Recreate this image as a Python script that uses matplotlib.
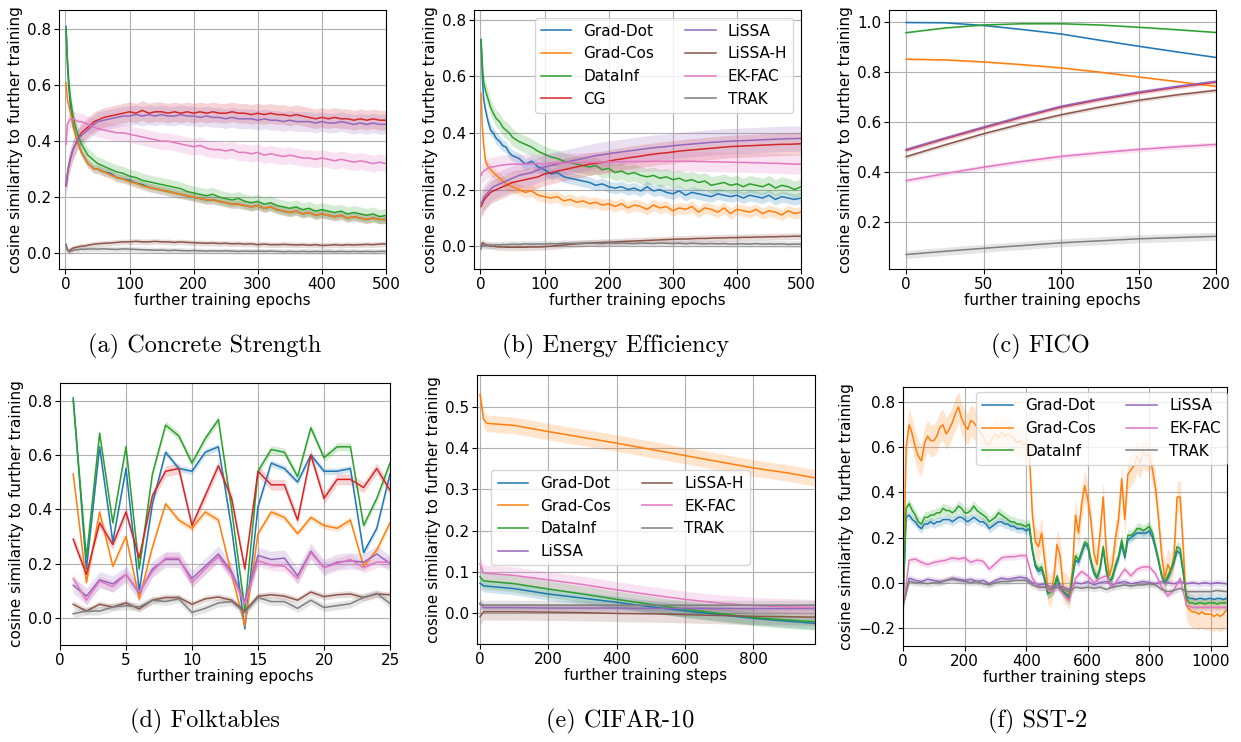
import matplotlib
matplotlib.use("Agg")
import matplotlib.pyplot as plt
import numpy as np

plt.rcParams['font.family'] = ['DejaVu Sans']
plt.rcParams['font.size'] = 11
plt.rcParams['axes.unicode_minus'] = True

METHODS = ['Grad-Dot', 'Grad-Cos', 'DataInf', 'CG', 'LiSSA', 'LiSSA-H', 'EK-FAC', 'TRAK']
COLORS = {'Grad-Dot': '#1f77b4', 'Grad-Cos': '#ff7f0e', 'DataInf': '#2ca02c', 'CG': '#d62728',
          'LiSSA': '#9467bd', 'LiSSA-H': '#8c564b', 'EK-FAC': '#e377c2', 'TRAK': '#7f7f7f'}

# ---------------- (a) Concrete Strength ----------------
x_a = [1, 3, 5, 8, 12, 16, 20, 25, 30, 35, 40, 45, 50] + list(range(60, 501, 10))
a_grad_dot = [0.81, 0.68, 0.60, 0.52, 0.46, 0.42, 0.39, 0.36, 0.34, 0.32, 0.31, 0.30, 0.30,
              0.29, 0.285, 0.27, 0.265, 0.26, 0.25, 0.245, 0.235, 0.23, 0.225,
              0.22, 0.215, 0.21, 0.205, 0.20, 0.195, 0.19, 0.19, 0.185, 0.18,
              0.175, 0.175, 0.17, 0.165, 0.17, 0.16, 0.165, 0.155, 0.15, 0.145,
              0.15, 0.14, 0.145, 0.135, 0.14, 0.135, 0.13, 0.135, 0.125, 0.13,
              0.125, 0.12, 0.125, 0.12, 0.12]
a_grad_cos = [0.61, 0.55, 0.53, 0.50, 0.45, 0.42, 0.39, 0.36, 0.34, 0.32, 0.31, 0.30, 0.30,
              0.29, 0.28, 0.27, 0.265, 0.255, 0.25, 0.24, 0.235, 0.23, 0.225,
              0.22, 0.215, 0.21, 0.205, 0.20, 0.195, 0.19, 0.19, 0.185, 0.18,
              0.175, 0.175, 0.17, 0.165, 0.17, 0.16, 0.165, 0.155, 0.15, 0.145,
              0.15, 0.14, 0.145, 0.135, 0.14, 0.135, 0.13, 0.135, 0.125, 0.13,
              0.125, 0.12, 0.125, 0.12, 0.12]
a_datainf = [0.80, 0.70, 0.62, 0.55, 0.49, 0.45, 0.42, 0.39, 0.37, 0.35, 0.34, 0.33, 0.32,
             0.31, 0.30, 0.29, 0.285, 0.275, 0.27, 0.26, 0.255, 0.25, 0.245,
             0.24, 0.235, 0.23, 0.22, 0.215, 0.21, 0.205, 0.21, 0.20, 0.195,
             0.19, 0.195, 0.185, 0.18, 0.185, 0.175, 0.18, 0.17, 0.165, 0.16,
             0.165, 0.155, 0.16, 0.15, 0.155, 0.15, 0.145, 0.15, 0.14, 0.145,
             0.14, 0.135, 0.14, 0.13, 0.135]
a_cg = [0.24, 0.28, 0.31, 0.34, 0.37, 0.39, 0.41, 0.43, 0.44, 0.45, 0.46, 0.47, 0.475,
        0.485, 0.49, 0.495, 0.50, 0.505, 0.50, 0.51, 0.50, 0.505, 0.505,
        0.50, 0.505, 0.50, 0.505, 0.50, 0.505, 0.50, 0.505, 0.50, 0.50,
        0.505, 0.50, 0.50, 0.495, 0.50, 0.495, 0.50, 0.495, 0.495, 0.49,
        0.495, 0.49, 0.485, 0.48, 0.485, 0.48, 0.485, 0.48, 0.48, 0.475,
        0.48, 0.475, 0.48, 0.475, 0.475]
a_lissa = [0.24, 0.28, 0.31, 0.34, 0.37, 0.39, 0.41, 0.42, 0.43, 0.44, 0.45, 0.46, 0.47,
           0.475, 0.48, 0.485, 0.49, 0.49, 0.495, 0.49, 0.495, 0.49, 0.495,
           0.49, 0.49, 0.495, 0.49, 0.49, 0.485, 0.49, 0.485, 0.485, 0.48,
           0.485, 0.48, 0.48, 0.48, 0.475, 0.48, 0.475, 0.475, 0.47, 0.475,
           0.47, 0.47, 0.47, 0.465, 0.47, 0.465, 0.465, 0.47, 0.465, 0.46,
           0.465, 0.46, 0.465, 0.46, 0.46]
a_lissa_h = [0.03, 0.01, 0.008, 0.012, 0.018, 0.02, 0.022, 0.025, 0.025, 0.028, 0.03, 0.032, 0.033,
             0.035, 0.036, 0.038, 0.04, 0.04, 0.042, 0.04, 0.04, 0.042, 0.04,
             0.04, 0.038, 0.04, 0.038, 0.037, 0.036, 0.035, 0.036, 0.034, 0.035,
             0.033, 0.034, 0.032, 0.033, 0.03, 0.032, 0.03, 0.03, 0.031, 0.03,
             0.029, 0.03, 0.028, 0.03, 0.027, 0.028, 0.03, 0.028, 0.03, 0.029,
             0.03, 0.031, 0.03, 0.032, 0.033]
a_ekfac = [0.39, 0.46, 0.47, 0.48, 0.48, 0.475, 0.47, 0.47, 0.465, 0.46, 0.455, 0.45, 0.445,
           0.44, 0.435, 0.43, 0.43, 0.425, 0.42, 0.415, 0.41, 0.405, 0.40,
           0.40, 0.395, 0.39, 0.385, 0.38, 0.385, 0.375, 0.37, 0.37, 0.365,
           0.37, 0.36, 0.36, 0.355, 0.36, 0.35, 0.355, 0.35, 0.345, 0.35,
           0.345, 0.34, 0.34, 0.335, 0.34, 0.335, 0.33, 0.335, 0.33, 0.325,
           0.33, 0.325, 0.32, 0.325, 0.32]
a_trak = [0.03, 0.012, 0.005, 0.006, 0.01, 0.012, 0.012, 0.014, 0.013, 0.015, 0.014, 0.015, 0.014,
          0.015, 0.014, 0.013, 0.015, 0.014, 0.013, 0.012, 0.011, 0.01, 0.011,
          0.009, 0.01, 0.009, 0.008, 0.009, 0.008, 0.007, 0.008, 0.007, 0.008,
          0.007, 0.006, 0.007, 0.006, 0.007, 0.006, 0.007, 0.006, 0.005, 0.006,
          0.005, 0.006, 0.005, 0.006, 0.005, 0.006, 0.005, 0.006, 0.005, 0.006,
          0.005, 0.006, 0.005, 0.006, 0.006]
a_std = [0.015, 0.015, 0.025, 0.035, 0.035, 0.01, 0.03, 0.01]

# ---------------- (b) Energy Efficiency ----------------
x_b = [1, 3, 5, 8, 12, 16, 20, 25, 30, 35, 40, 45, 50] + list(range(60, 501, 10))
b_grad_dot = [0.73, 0.60, 0.52, 0.48, 0.44, 0.41, 0.40, 0.38, 0.37, 0.355, 0.35, 0.33, 0.32,
              0.31, 0.29, 0.30, 0.28, 0.27, 0.255, 0.26, 0.245, 0.24, 0.235,
              0.23, 0.225, 0.215, 0.22, 0.21, 0.205, 0.21, 0.20, 0.205, 0.195,
              0.21, 0.195, 0.20, 0.19, 0.185, 0.195, 0.18, 0.19, 0.185, 0.18,
              0.175, 0.185, 0.18, 0.175, 0.18, 0.17, 0.18, 0.175, 0.17, 0.18,
              0.165, 0.175, 0.17, 0.165, 0.17]
b_grad_cos = [0.54, 0.42, 0.36, 0.30, 0.28, 0.27, 0.26, 0.25, 0.24, 0.23, 0.22, 0.215, 0.21,
              0.20, 0.19, 0.195, 0.18, 0.175, 0.17, 0.175, 0.16, 0.165, 0.155,
              0.16, 0.15, 0.155, 0.145, 0.15, 0.14, 0.15, 0.135, 0.145, 0.14,
              0.13, 0.145, 0.135, 0.14, 0.125, 0.135, 0.13, 0.14, 0.12, 0.135,
              0.13, 0.12, 0.135, 0.115, 0.13, 0.125, 0.12, 0.13, 0.115, 0.125,
              0.12, 0.11, 0.125, 0.115, 0.12]
b_datainf = [0.73, 0.64, 0.58, 0.55, 0.52, 0.49, 0.47, 0.45, 0.44, 0.42, 0.41, 0.40, 0.385,
             0.37, 0.36, 0.35, 0.335, 0.325, 0.315, 0.31, 0.30, 0.295, 0.29,
             0.285, 0.28, 0.285, 0.27, 0.275, 0.26, 0.265, 0.255, 0.26, 0.25,
             0.245, 0.25, 0.24, 0.245, 0.235, 0.24, 0.23, 0.235, 0.225, 0.23,
             0.215, 0.22, 0.225, 0.215, 0.22, 0.21, 0.22, 0.215, 0.21, 0.22,
             0.205, 0.215, 0.21, 0.20, 0.21]
b_cg = [0.14, 0.15, 0.16, 0.17, 0.18, 0.19, 0.195, 0.20, 0.205, 0.21, 0.215, 0.22, 0.225,
        0.23, 0.235, 0.24, 0.245, 0.255, 0.26, 0.265, 0.27, 0.275, 0.28,
        0.285, 0.29, 0.293, 0.296, 0.30, 0.305, 0.308, 0.312, 0.315, 0.318,
        0.322, 0.325, 0.328, 0.33, 0.333, 0.336, 0.338, 0.34, 0.342, 0.344,
        0.346, 0.348, 0.35, 0.352, 0.353, 0.354, 0.355, 0.356, 0.357, 0.358,
        0.359, 0.36, 0.36, 0.361, 0.362]
b_lissa = [0.15, 0.16, 0.17, 0.18, 0.19, 0.20, 0.21, 0.215, 0.22, 0.225, 0.23, 0.235, 0.24,
           0.25, 0.255, 0.26, 0.27, 0.28, 0.285, 0.29, 0.295, 0.30, 0.305,
           0.31, 0.315, 0.32, 0.323, 0.327, 0.33, 0.333, 0.336, 0.339, 0.342,
           0.345, 0.348, 0.35, 0.352, 0.355, 0.357, 0.359, 0.361, 0.363, 0.365,
           0.367, 0.368, 0.37, 0.371, 0.372, 0.373, 0.374, 0.375, 0.376, 0.377,
           0.378, 0.379, 0.38, 0.38, 0.381]
b_lissa_h = [0.0, 0.012, 0.01, 0.005, 0.003, 0.0, 0.0, -0.002, -0.003, -0.003, -0.004, -0.004, -0.004,
             -0.004, -0.004, -0.003, -0.003, -0.002, 0.0, 0.002, 0.004, 0.006, 0.008,
             0.01, 0.011, 0.012, 0.013, 0.014, 0.015, 0.016, 0.017, 0.018, 0.019,
             0.02, 0.021, 0.022, 0.023, 0.024, 0.025, 0.025, 0.026, 0.027, 0.027,
             0.028, 0.029, 0.029, 0.03, 0.03, 0.031, 0.031, 0.032, 0.032, 0.033,
             0.033, 0.034, 0.034, 0.035, 0.035]
b_ekfac = [0.25, 0.26, 0.265, 0.27, 0.275, 0.28, 0.28, 0.283, 0.285, 0.287, 0.288, 0.289, 0.29,
           0.29, 0.29, 0.291, 0.292, 0.292, 0.293, 0.294, 0.294, 0.295, 0.295,
           0.296, 0.296, 0.297, 0.297, 0.298, 0.298, 0.298, 0.299, 0.299, 0.299,
           0.299, 0.30, 0.30, 0.30, 0.30, 0.30, 0.30, 0.30, 0.299, 0.299,
           0.298, 0.298, 0.297, 0.297, 0.296, 0.296, 0.295, 0.295, 0.294, 0.293,
           0.293, 0.292, 0.291, 0.29, 0.29]
b_trak = [-0.01, 0.005, 0.0, 0.002, 0.003, 0.004, 0.003, 0.005, 0.004, 0.006, 0.005, 0.006, 0.007,
          0.006, 0.008, 0.007, 0.008, 0.007, 0.009, 0.008, 0.01, 0.009, 0.01,
          0.009, 0.011, 0.01, 0.009, 0.011, 0.01, 0.011, 0.01, 0.009, 0.011,
          0.01, 0.009, 0.011, 0.01, 0.009, 0.01, 0.008, 0.01, 0.009, 0.008,
          0.009, 0.008, 0.009, 0.007, 0.008, 0.008, 0.007, 0.009, 0.007, 0.008,
          0.007, 0.008, 0.006, 0.007, 0.007]
b_std = [0.02, 0.02, 0.03, 0.04, 0.045, 0.012, 0.035, 0.012]

# ---------------- (c) FICO ----------------
x_c = [0, 25, 50, 75, 100, 125, 150, 175, 200]
c_grad_dot = [0.998, 0.997, 0.986, 0.970, 0.952, 0.927, 0.903, 0.880, 0.858]
c_grad_cos = [0.851, 0.848, 0.840, 0.829, 0.816, 0.799, 0.780, 0.761, 0.742]
c_datainf = [0.957, 0.976, 0.988, 0.993, 0.993, 0.988, 0.979, 0.969, 0.958]
c_cg = [0.486, 0.532, 0.576, 0.619, 0.659, 0.689, 0.716, 0.739, 0.759]
c_lissa = [0.489, 0.535, 0.579, 0.622, 0.662, 0.692, 0.719, 0.742, 0.762]
c_lissa_h = [0.460, 0.507, 0.552, 0.592, 0.628, 0.659, 0.686, 0.708, 0.726]
c_ekfac = [0.364, 0.392, 0.418, 0.441, 0.461, 0.476, 0.489, 0.500, 0.509]
c_trak = [0.068, 0.081, 0.093, 0.104, 0.115, 0.123, 0.131, 0.136, 0.141]
c_std = [0.003, 0.004, 0.003, 0.008, 0.008, 0.008, 0.01, 0.016]

# ---------------- (d) Folktables ----------------
x_d = list(range(1, 26))
d_grad_dot = [0.81, 0.18, 0.63, 0.28, 0.55, 0.10, 0.42, 0.61, 0.55, 0.54, 0.61, 0.63, 0.33, -0.04,
              0.41, 0.57, 0.55, 0.50, 0.60, 0.54, 0.54, 0.55, 0.24, 0.33, 0.53]
d_grad_cos = [0.53, 0.13, 0.39, 0.19, 0.30, 0.07, 0.26, 0.42, 0.36, 0.33, 0.39, 0.36, 0.16, -0.03,
              0.31, 0.39, 0.37, 0.31, 0.37, 0.34, 0.33, 0.36, 0.19, 0.25, 0.35]
d_datainf = [0.80, 0.22, 0.68, 0.35, 0.63, 0.18, 0.53, 0.71, 0.67, 0.57, 0.66, 0.73, 0.40, 0.03,
             0.54, 0.62, 0.61, 0.52, 0.70, 0.59, 0.63, 0.63, 0.34, 0.44, 0.57]
d_cg = [0.29, 0.16, 0.35, 0.27, 0.39, 0.22, 0.45, 0.54, 0.55, 0.34, 0.45, 0.56, 0.44, 0.18,
        0.54, 0.49, 0.49, 0.36, 0.60, 0.44, 0.51, 0.51, 0.48, 0.55, 0.47]
d_lissa = [0.12, 0.08, 0.14, 0.125, 0.16, 0.09, 0.18, 0.215, 0.215, 0.145, 0.19, 0.235, 0.17, 0.06,
           0.23, 0.215, 0.22, 0.155, 0.245, 0.185, 0.205, 0.21, 0.205, 0.235, 0.20]
d_lissa_h = [0.05, 0.025, 0.05, 0.04, 0.055, 0.033, 0.065, 0.075, 0.075, 0.05, 0.07, 0.077, 0.065, 0.025,
             0.08, 0.085, 0.08, 0.065, 0.095, 0.078, 0.085, 0.088, 0.075, 0.088, 0.085]
d_ekfac = [0.145, 0.065, 0.135, 0.115, 0.16, 0.095, 0.17, 0.22, 0.22, 0.13, 0.18, 0.225, 0.16, 0.05,
           0.21, 0.195, 0.19, 0.145, 0.24, 0.185, 0.20, 0.215, 0.185, 0.205, 0.205]
d_trak = [0.015, 0.025, 0.025, 0.04, 0.045, 0.04, 0.065, 0.06, 0.07, 0.02, 0.035, 0.055, 0.06, 0.02,
          0.075, 0.06, 0.06, 0.035, 0.065, 0.038, 0.045, 0.052, 0.075, 0.09, 0.053]
d_std = [0.012, 0.012, 0.015, 0.02, 0.03, 0.012, 0.02, 0.015]

# ---------------- (e) CIFAR-10 ----------------
x_e = [0, 10, 20, 100, 200, 300, 400, 500, 600, 700, 800, 900, 980]
e_grad_dot = [0.073, 0.067, 0.066, 0.060, 0.047, 0.037, 0.027, 0.016, 0.006, -0.003, -0.012, -0.019, -0.024]
e_grad_cos = [0.53, 0.47, 0.46, 0.455, 0.44, 0.426, 0.412, 0.397, 0.382, 0.367, 0.352, 0.340, 0.328]
e_datainf = [0.089, 0.079, 0.078, 0.072, 0.059, 0.047, 0.034, 0.022, 0.010, 0.0, -0.010, -0.016, -0.020]
e_lissa = [0.025, 0.014, 0.014, 0.014, 0.013, 0.013, 0.013, 0.012, 0.012, 0.012, 0.012, 0.012, 0.012]
e_lissa_h = [-0.008, 0.004, 0.004, 0.004, 0.003, 0.002, 0.0, -0.001, -0.003, -0.005, -0.007, -0.008, -0.009]
e_ekfac = [0.12, 0.098, 0.097, 0.092, 0.081, 0.070, 0.057, 0.045, 0.034, 0.025, 0.019, 0.016, 0.014]
e_trak = [0.022, 0.020, 0.020, 0.020, 0.020, 0.020, 0.020, 0.020, 0.020, 0.020, 0.020, 0.020, 0.020]
e_std = [0.015, 0.02, 0.02, 0.01, 0.02, 0.02, 0.012]

# ---------------- (f) SST-2 ----------------
x_f = list(range(0, 1051, 10))
x_f_coarse = list(range(0, 1040, 20)) + [1050]
f_grad_dot = [-0.10, 0.29, 0.30, 0.28, 0.27, 0.25, 0.24, 0.26, 0.26, 0.27,
              0.26, 0.27, 0.27, 0.28, 0.28, 0.28, 0.27, 0.28, 0.29, 0.29,
              0.28, 0.27, 0.28, 0.29, 0.28, 0.27, 0.27, 0.26, 0.24, 0.25,
              0.26, 0.27, 0.27, 0.26, 0.26, 0.25, 0.25, 0.24, 0.24, 0.24,
              0.23, 0.24, 0.14, 0.07, 0.05, 0.06, 0.01, -0.05, -0.04, -0.03,
              0.02, -0.02, -0.04, -0.05, -0.06, 0.02, 0.10, 0.09, 0.13, 0.17,
              0.16, 0.09, 0.04, 0.02, 0.06, 0.15, 0.05, 0.00, 0.02, 0.07,
              0.11, 0.17, 0.11, 0.19, 0.20, 0.21, 0.22, 0.22, 0.22, 0.22,
              0.23, 0.20, 0.15, 0.09, 0.03, 0.00, 0.02, 0.05, 0.09, 0.14,
              0.13, 0.04, -0.06, -0.07, -0.07, -0.075, -0.07, -0.07, -0.075, -0.07,
              -0.07, -0.075, -0.07, -0.07, -0.075, -0.07]
f_grad_cos = [-0.12, 0.60, 0.70, 0.66, 0.60, 0.56, 0.54, 0.62, 0.65, 0.63,
              0.63, 0.65, 0.69, 0.70, 0.66, 0.68, 0.71, 0.75, 0.78, 0.73,
              0.70, 0.68, 0.72, 0.71, 0.69, 0.67, 0.65, 0.62, 0.61, 0.64,
              0.66, 0.64, 0.67, 0.65, 0.66, 0.65, 0.64, 0.62, 0.63, 0.61,
              0.62, 0.58, 0.30, 0.18, 0.16, 0.22, 0.10, -0.02, -0.04, 0.02,
              0.17, 0.12, -0.02, -0.03, -0.05, 0.05, 0.30, 0.22, 0.35, 0.43,
              0.37, 0.28, 0.13, 0.08, 0.22, 0.38, 0.14, 0.03, 0.08, 0.20,
              0.28, 0.46, 0.28, 0.48, 0.50, 0.52, 0.56, 0.53, 0.58, 0.56,
              0.57, 0.50, 0.42, 0.28, 0.12, 0.02, 0.08, 0.05, 0.12, 0.38,
              0.38, 0.15, -0.10, -0.12, -0.13, -0.13, -0.14, -0.13, -0.14, -0.14,
              -0.14, -0.15, -0.14, -0.15, -0.14, -0.12]
f_datainf = [-0.10, 0.33, 0.35, 0.32, 0.30, 0.27, 0.26, 0.29, 0.29, 0.30,
             0.30, 0.31, 0.31, 0.33, 0.32, 0.32, 0.31, 0.32, 0.34, 0.33,
             0.31, 0.31, 0.32, 0.34, 0.32, 0.31, 0.30, 0.29, 0.27, 0.28,
             0.29, 0.31, 0.30, 0.29, 0.28, 0.27, 0.27, 0.26, 0.26, 0.255,
             0.25, 0.26, 0.15, 0.08, 0.06, 0.07, 0.02, -0.05, -0.04, -0.02,
             0.03, -0.02, -0.04, -0.06, -0.07, 0.03, 0.12, 0.10, 0.14, 0.18,
             0.17, 0.10, 0.05, 0.02, 0.07, 0.16, 0.06, 0.00, 0.03, 0.08,
             0.12, 0.19, 0.12, 0.21, 0.21, 0.22, 0.24, 0.24, 0.23, 0.24,
             0.25, 0.22, 0.16, 0.10, 0.03, 0.00, 0.03, 0.06, 0.10, 0.16,
             0.15, 0.05, -0.07, -0.09, -0.09, -0.095, -0.09, -0.09, -0.095, -0.09,
             -0.09, -0.09, -0.095, -0.09, -0.09, -0.09]
f_lissa = [-0.10, 0.02, 0.01, 0.005, 0.015, 0.01, 0.005, 0.01, 0.02, 0.015,
           0.01, 0.015, 0.005, 0.01, -0.005, 0.01, 0.02, 0.015, 0.02, 0.025,
           0.02, 0.0, -0.01, -0.005, -0.02, -0.01, -0.02, -0.03, 0.0, -0.005,
           0.005, -0.01, 0.0, 0.005, -0.01, 0.0, 0.005, -0.005, 0.0, 0.005,
           0.0, -0.005, 0.005, 0.0, -0.005, 0.005, -0.005, 0.0, -0.005, 0.0,
           -0.005, 0.0, -0.005]
f_ekfac = [-0.12, 0.10, 0.105, 0.09, 0.08, 0.09, 0.095, 0.10, 0.11, 0.105,
           0.11, 0.09, 0.10, 0.095, 0.06, 0.085, 0.11, 0.115, 0.115, 0.12,
           0.12, 0.02, -0.02, -0.02, -0.04, -0.02, -0.05, -0.08, 0.02, 0.05,
           0.03, 0.0, 0.02, 0.03, -0.02, 0.02, 0.06, 0.03, 0.06, 0.07,
           0.07, 0.04, -0.02, -0.06, -0.03, 0.02, -0.10, -0.11, -0.11, -0.11,
           -0.11, -0.11, -0.11]
f_trak = [-0.10, 0.005, 0.0, 0.0, -0.005, 0.0, 0.0, 0.01, 0.015, 0.01,
          0.005, 0.0, 0.005, -0.005, -0.01, 0.0, 0.005, 0.005, 0.01, 0.01,
          0.01, -0.01, -0.02, -0.02, -0.03, -0.02, -0.03, -0.04, -0.02, -0.025,
          -0.02, -0.025, -0.02, -0.03, -0.02, -0.015, -0.01, -0.015, -0.01, -0.01,
          -0.005, -0.01, -0.03, -0.04, -0.035, -0.025, -0.04, -0.04, -0.04, -0.04,
          -0.04, -0.035, -0.04]
f_std = [0.02, 0.07, 0.025, 0.015, 0.015, 0.015]

captions = ['(a) Concrete Strength', '(b) Energy Efficiency', '(c) FICO',
            '(d) Folktables', '(e) CIFAR-10', '(f) SST-2']

fig = plt.figure(figsize=(12.41, 7.42), dpi=100)
W, H = 1241, 742


def add_ax(l, t, r, b):
    return fig.add_axes([l / W, 1 - b / H, (r - l) / W, (b - t) / H])


def draw(ax, xs, names, ys, stds):
    for name, x, y, s in zip(names, xs, ys, stds):
        y = np.asarray(y, float)
        c = COLORS[name]
        ax.fill_between(x, y - s, y + s, color=c, alpha=0.2, lw=0)
        ax.plot(x, y, color=c, lw=1.1, label=name)


def style(ax, xlabel):
    ax.grid(True, color='#b0b0b0', lw=0.8)
    ax.set_axisbelow(True)
    ax.set_xlabel(xlabel, labelpad=1)
    ax.set_ylabel('cosine similarity to further training', labelpad=3)
    ax.tick_params(pad=2)


# (a)
ax = add_ax(59, 10, 386, 269)
draw(ax, [x_a] * 8, METHODS,
     [a_grad_dot, a_grad_cos, a_datainf, a_cg, a_lissa, a_lissa_h, a_ekfac, a_trak], a_std)
ax.set_xlim(-10, 500)
ax.set_ylim(-0.057, 0.869)
ax.set_xticks([0, 100, 200, 300, 400, 500])
ax.set_yticks([0.0, 0.2, 0.4, 0.6, 0.8])
style(ax, 'further training epochs')

# (b)
ax = add_ax(474, 10, 801, 269)
draw(ax, [x_b] * 8, METHODS,
     [b_grad_dot, b_grad_cos, b_datainf, b_cg, b_lissa, b_lissa_h, b_ekfac, b_trak], b_std)
ax.set_xlim(-10, 500)
ax.set_ylim(-0.081, 0.835)
ax.set_xticks([0, 100, 200, 300, 400, 500])
ax.set_yticks([0.0, 0.2, 0.4, 0.6, 0.8])
style(ax, 'further training epochs')
ax.legend(ncol=2, loc='upper right', borderaxespad=0.5)

# (c)
ax = add_ax(889, 10, 1216, 269)
draw(ax, [x_c] * 8, METHODS,
     [c_grad_dot, c_grad_cos, c_datainf, c_cg, c_lissa, c_lissa_h, c_ekfac, c_trak], c_std)
ax.set_xlim(-11, 200)
ax.set_ylim(0.01, 1.048)
ax.set_xticks([0, 50, 100, 150, 200])
ax.set_yticks([0.2, 0.4, 0.6, 0.8, 1.0])
style(ax, 'further training epochs')

# (d)
ax = add_ax(60, 383, 390, 645)
draw(ax, [x_d] * 8, METHODS,
     [d_grad_dot, d_grad_cos, d_datainf, d_cg, d_lissa, d_lissa_h, d_ekfac, d_trak], d_std)
ax.set_xlim(0, 25)
ax.set_ylim(-0.1, 0.865)
ax.set_xticks([0, 5, 10, 15, 20, 25])
ax.set_yticks([0.0, 0.2, 0.4, 0.6, 0.8])
style(ax, 'further training epochs')

# (e)
e_names = ['Grad-Dot', 'Grad-Cos', 'DataInf', 'LiSSA', 'LiSSA-H', 'EK-FAC', 'TRAK']
ax = add_ax(477, 375, 815, 644)
draw(ax, [x_e] * 7, e_names,
     [e_grad_dot, e_grad_cos, e_datainf, e_lissa, e_lissa_h, e_ekfac, e_trak], e_std)
ax.set_xlim(-9, 980)
ax.set_ylim(-0.074, 0.577)
ax.set_xticks([0, 200, 400, 600, 800])
ax.set_yticks([0.0, 0.1, 0.2, 0.3, 0.4, 0.5])
style(ax, 'further training steps')
ax.legend(ncol=2, loc='center left', bbox_to_anchor=(0.02, 0.47))

# (f)
f_names = ['Grad-Dot', 'Grad-Cos', 'DataInf', 'LiSSA', 'EK-FAC', 'TRAK']
ax = add_ax(903, 387, 1227, 646)
draw(ax, [x_f, x_f, x_f, x_f_coarse, x_f_coarse, x_f_coarse], f_names,
     [f_grad_dot, f_grad_cos, f_datainf, f_lissa, f_ekfac, f_trak], f_std)
ax.set_xlim(0, 1052)
ax.set_ylim(-0.281, 0.868)
ax.set_xticks([0, 200, 400, 600, 800, 1000])
ax.set_yticks([-0.2, 0.0, 0.2, 0.4, 0.6, 0.8])
style(ax, 'further training steps')
ax.legend(ncol=2, loc='upper right', bbox_to_anchor=(1.0, 0.98), borderaxespad=0)

# captions
cap_pos = [(205, 346), (616, 346), (1040, 346), (205, 721), (620, 721), (1038, 721)]
for text, (cx, cy) in zip(captions, cap_pos):
    fig.text(cx / W, 1 - cy / H, text, ha='center', va='center',
             fontfamily='cmr10', fontsize=17.5)

fig.savefig('out.png', dpi=100)
